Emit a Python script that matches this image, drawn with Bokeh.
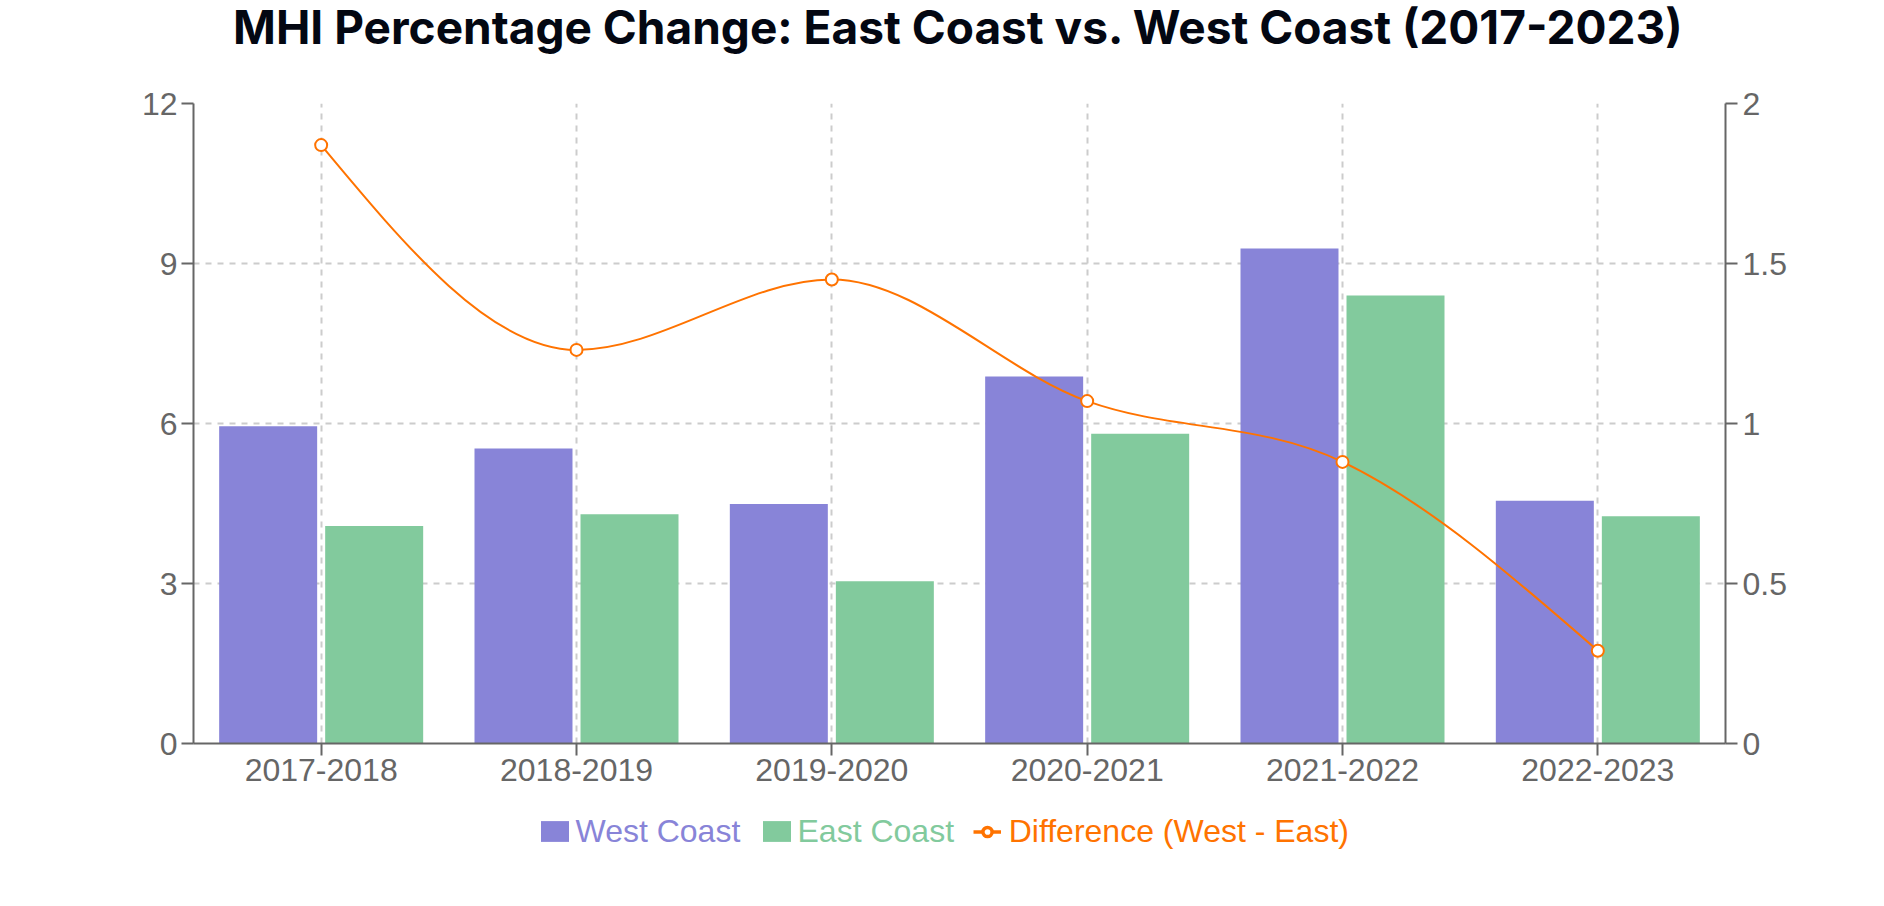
import numpy as np
from bokeh.plotting import figure
from bokeh.layouts import column
from bokeh.models import (FactorRange, Range1d, LinearAxis, FixedTicker,
                          CustomJSTickFormatter, Legend, LegendItem, ColumnDataSource, Label)
from bokeh.transform import dodge
from bokeh.embed import file_html
from bokeh.resources import INLINE
from bokeh.core.properties import value

# ---------------- data ----------------
periods = ["2017-2018", "2018-2019", "2019-2020", "2020-2021", "2021-2022", "2022-2023"]
west_coast = [5.95, 5.53, 4.49, 6.88, 9.28, 4.55]
east_coast = [4.08, 4.30, 3.04, 5.81, 8.40, 4.26]
difference = [1.87, 1.23, 1.45, 1.07, 0.88, 0.29]
left_ticks = [0, 3, 6, 9, 12]
right_ticks = [0, 0.5, 1, 1.5, 2]
title_text = "MHI Percentage Change: East Coast vs. West Coast (2017-2023)"
series_names = ["West Coast", "East Coast", "Difference (West - East)"]

WEST_C = "#8884d8"
EAST_C = "#82ca9d"
DIFF_C = "#ff7300"
AXIS_C = "#666666"
FONT = "Liberation Sans"
W = 1868
BORDER_L = 193
BORDER_R = 143
FRAME_L = BORDER_L
FRAME_R = W - BORDER_R


def blank_figure(height):
    f = figure(width=W, height=height, x_range=Range1d(FRAME_L, FRAME_R),
               y_range=Range1d(0, height),
               x_axis_type=None, y_axis_type=None, output_backend="svg",
               toolbar_location=None, min_border=0,
               min_border_left=BORDER_L, min_border_right=BORDER_R)
    f.grid.visible = False
    f.outline_line_color = None
    f.background_fill_color = "white"
    f.border_fill_color = "white"
    return f


# ---------------- title ----------------
TITLE_H = 83
tf = blank_figure(TITLE_H)
tf.add_layout(Label(x=958, y=57, text=title_text, text_align="center",
                    text_baseline="alphabetic", text_font="Inter", text_font_size="46px",
                    text_font_style="bold", text_color="#030712"))

# ---------------- main chart ----------------
p = figure(width=W, height=720,
           x_range=FactorRange(factors=periods, range_padding=0),
           y_range=Range1d(0, 12),
           output_backend="svg", toolbar_location=None,
           min_border_left=BORDER_L, min_border_right=BORDER_R,
           min_border_top=20, min_border_bottom=60)
p.extra_y_ranges = {"diff": Range1d(0, 2)}
p.outline_line_color = None
p.background_fill_color = "white"
p.border_fill_color = "white"

for g in (p.xgrid[0], p.ygrid[0]):
    g.grid_line_color = "#cccccc"
    g.grid_line_dash = "6 6"
    g.grid_line_width = 2

p.yaxis[0].ticker = FixedTicker(ticks=left_ticks)
right_axis = LinearAxis(y_range_name="diff",
                        ticker=FixedTicker(ticks=right_ticks),
                        formatter=CustomJSTickFormatter(code="return String(tick)"))
p.add_layout(right_axis, "right")

for ax in (p.xaxis[0], p.yaxis[0], right_axis):
    ax.axis_line_color = AXIS_C
    ax.axis_line_width = 2
    ax.major_tick_line_color = AXIS_C
    ax.major_tick_line_width = 2
    ax.major_tick_out = 12
    ax.major_tick_in = 0
    ax.minor_tick_out = 0
    ax.minor_tick_in = 0
    ax.major_label_text_font = FONT
    ax.major_label_text_font_size = "32px"
    ax.major_label_text_color = AXIS_C
p.xaxis[0].major_label_standoff = 3
p.yaxis[0].major_label_standoff = 4
right_axis.major_label_standoff = 5

src = ColumnDataSource(dict(period=periods, west=west_coast, east=east_coast))
BAR_OFF = 0.2076
BAR_W = 0.3838
r_west = p.vbar(x=dodge("period", -BAR_OFF, range=p.x_range), top="west", width=BAR_W,
                source=src, fill_color=WEST_C, line_color=None)
r_east = p.vbar(x=dodge("period", BAR_OFF, range=p.x_range), top="east", width=BAR_W,
                source=src, fill_color=EAST_C, line_color=None)

# monotone-x smooth curve through the difference points
xs = np.arange(len(periods)) + 0.5
ys = np.array(difference, dtype=float)
n = len(xs)
h = np.diff(xs)
s = np.diff(ys) / h
t = np.zeros(n)
for i in range(1, n - 1):
    s0, s1 = s[i - 1], s[i]
    pp = (s0 * h[i] + s1 * h[i - 1]) / (h[i - 1] + h[i])
    t[i] = (np.sign(s0) + np.sign(s1)) * min(abs(s0), abs(s1), 0.5 * abs(pp))
t[0] = (3 * s[0] - t[1]) / 2
t[-1] = (3 * s[-1] - t[-2]) / 2
dx = h / 3
p.bezier(x0=xs[:-1], y0=ys[:-1], x1=xs[1:], y1=ys[1:],
         cx0=xs[:-1] + dx, cy0=ys[:-1] + dx * t[:-1],
         cx1=xs[1:] - dx, cy1=ys[1:] - dx * t[1:],
         y_range_name="diff", line_color=DIFF_C, line_width=2)
p.scatter(x=periods, y=difference, y_range_name="diff", size=12,
          fill_color="white", line_color=DIFF_C, line_width=2)

# ---------------- legend strip ----------------
LEG_H = 87
lf = blank_figure(LEG_H)
nan = [np.nan]
lg_west = lf.vbar(x=nan, top=nan, width=1, fill_color=WEST_C, line_color=None)
lg_east = lf.vbar(x=nan, top=nan, width=1, fill_color=EAST_C, line_color=None)
lg_line = lf.line(x=nan, y=nan, line_color=DIFF_C, line_width=3.5)
lg_dot = lf.scatter(x=nan, y=nan, fill_color="white", line_color=DIFF_C, line_width=3.5)


def add_legend(label, renderers, color, x, y, gw, gh, standoff):
    lg = Legend(items=[LegendItem(label=value(label), renderers=renderers)],
                location=(x, y), orientation="horizontal",
                padding=0, margin=0, spacing=0,
                border_line_color=None, background_fill_alpha=0,
                glyph_width=gw, glyph_height=gh, label_standoff=standoff,
                label_text_font=FONT, label_text_font_size="32px",
                label_text_color=color)
    lf.add_layout(lg, "center")


LEG_Y = 40.5
add_legend(series_names[0], [lg_west], WEST_C, 343.5, LEG_Y, 35, 26, 4)
add_legend(series_names[1], [lg_east], EAST_C, 565.5, LEG_Y, 35, 26, 4)
add_legend(series_names[2], [lg_line, lg_dot], DIFF_C, 779.7, LEG_Y, 28, 23, 8)

layout = column(tf, p, lf, spacing=0)
open("out.html", "w").write(file_html(layout, INLINE))
